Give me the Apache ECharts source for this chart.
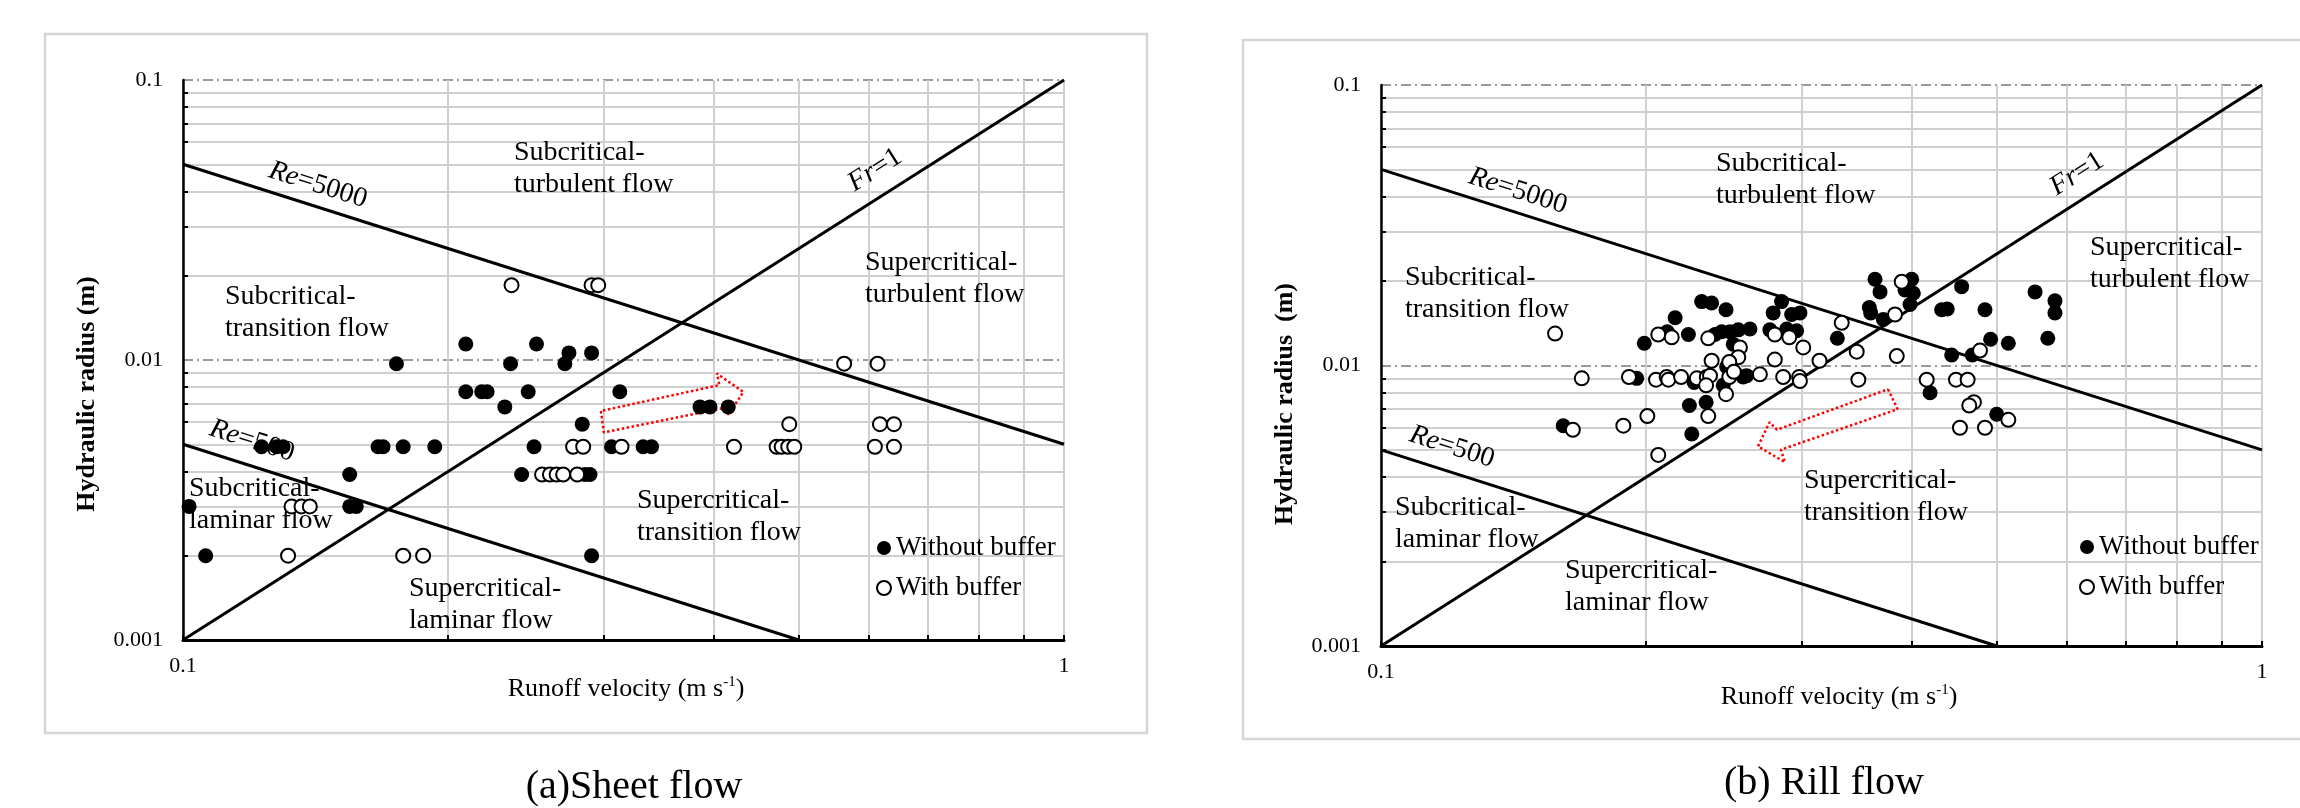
<!DOCTYPE html>
<html><head><meta charset="utf-8">
<script src="https://cdn.jsdelivr.net/npm/echarts@6/dist/echarts.min.js"></script>
<style>html,body{margin:0;padding:0;background:#fff}#c{width:2300px;height:808px}</style>
</head><body><div id="c"></div>
<script>
// ---------- tick labels / tick values ----------
const xTickValues = [0.1, 1];
const xTickLabels = ['0.1', '1'];
const yTickValues = [0.001, 0.01, 0.1];
const yTickLabels = ['0.001', '0.01', '0.1'];
const xMinorValues = [0.1, 0.2, 0.3, 0.4, 0.5, 0.6, 0.7, 0.8, 0.9, 1];
const yMinorValues = [0.002, 0.003, 0.004, 0.005, 0.006, 0.007, 0.008, 0.009,
                      0.02, 0.03, 0.04, 0.05, 0.06, 0.07, 0.08, 0.09];

// ---------- boundary lines ----------
const frLine = [[0.1, 0.001], [1, 0.1]];
const re5000Line = [[0.1, 0.05], [1, 0.005]];
const re500Line = [[0.1, 0.005], [0.5, 0.001]];

// ---------- (a) sheet flow ----------
const sheetWithout = [
  [0.1747,0.0097],[0.2094,0.0114],[0.2519,0.0114],[0.2742,0.0106],[0.2713,0.0097],[0.2909,0.0106],[0.2354,0.0097],
  [0.2094,0.0077],[0.2183,0.0077],[0.2214,0.0077],[0.2465,0.0077],[0.3132,0.0077],
  [0.2319,0.0068],[0.3862,0.0068],[0.3964,0.0068],[0.4158,0.0068],
  [0.2839,0.0059],
  [0.1228,0.0049],[0.1277,0.0049],[0.1299,0.0049],[0.1665,0.0049],[0.1687,0.0049],[0.1778,0.0049],[0.1931,0.0049],
  [0.2503,0.0049],[0.3065,0.0049],[0.3329,0.0049],[0.3403,0.0049],
  [0.1546,0.0039],[0.2423,0.0039],[0.2859,0.0039],[0.2897,0.0039],
  [0.1016,0.003],[0.1546,0.003],[0.1573,0.003],
  [0.1061,0.002],[0.2909,0.002]
];
const sheetWith = [
  [0.2360,0.0185],[0.2909,0.0185],[0.2960,0.0185],
  [0.5629,0.0097],[0.6143,0.0097],
  [0.4877,0.0059],[0.6181,0.0059],[0.6412,0.0059],
  [0.2772,0.0049],[0.2846,0.0049],[0.3146,0.0049],[0.4221,0.0049],[0.4719,0.0049],[0.4781,0.0049],
  [0.4864,0.0049],[0.4941,0.0049],[0.6100,0.0049],[0.6412,0.0049],
  [0.2556,0.0039],[0.2609,0.0039],[0.2655,0.0039],[0.2701,0.0039],[0.2802,0.0039],
  [0.1328,0.003],[0.1363,0.003],[0.1393,0.003],
  [0.1316,0.002],[0.1778,0.002],[0.1873,0.002]
];
const sheetArrow = [
  [0.2981,0.006575],[0.3004,0.005509],[0.4111,0.006739],[0.4160,0.006387],
  [0.4326,0.007688],[0.4036,0.008950],[0.4063,0.008142],[0.2981,0.006575]
];

// ---------- (b) rill flow ----------
const rillWithout = [
  [0.1990,0.0120],[0.2157,0.0148],[0.2113,0.0132],[0.2233,0.0129],[0.2312,0.0169],[0.2373,0.0167],[0.2464,0.0158],
  [0.2394,0.0129],[0.2436,0.0132],[0.2489,0.0132],[0.2544,0.0134],[0.2623,0.0135],
  [0.2511,0.0119],[0.2468,0.0099],
  [0.2849,0.0169],[0.2787,0.0154],[0.2925,0.0152],[0.2989,0.0154],
  [0.2763,0.0134],[0.2887,0.0135],[0.2963,0.0133],
  [0.1951,0.0090],[0.2267,0.0087],[0.2446,0.0085],[0.2577,0.0091],[0.2600,0.0092],
  [0.2239,0.0072],[0.2339,0.0074],[0.1610,0.0061],[0.2253,0.0057],
  [0.3637,0.0203],[0.3685,0.0183],[0.4003,0.0203],[0.3934,0.0186],[0.4020,0.0181],[0.3986,0.0165],
  [0.3583,0.0161],[0.3596,0.0154],[0.3717,0.0146],[0.3296,0.0125],
  [0.4561,0.0191],[0.4329,0.0158],[0.4393,0.0159],[0.4848,0.0158],[0.4920,0.0124],[0.5153,0.0120],
  [0.4444,0.0109],[0.4690,0.0109],[0.5526,0.0183],[0.5821,0.0170],[0.5821,0.0154],[0.5713,0.0125],
  [0.4200,0.0080],[0.4999,0.0067]
];
const rillWith = [
  [0.2064,0.0129],[0.2138,0.0126],[0.2352,0.0125],[0.2555,0.0116],[0.2544,0.0107],[0.2373,0.0104],[0.2485,0.0103],
  [0.2799,0.0129],[0.2907,0.0126],[0.3015,0.0116],[0.2799,0.0105],[0.3146,0.0104],
  [0.1690,0.0090],[0.1912,0.0091],[0.2052,0.0089],[0.2110,0.0091],[0.2119,0.0089],[0.2191,0.0091],
  [0.2283,0.0090],[0.2343,0.0091],[0.2363,0.0092],[0.2339,0.0085],[0.2485,0.0091],[0.2515,0.0095],
  [0.2464,0.0079],[0.2692,0.0093],[0.2861,0.0091],[0.2983,0.0091],[0.2989,0.0088],
  [0.2352,0.0066],[0.2006,0.0066],[0.1884,0.0061],[0.1651,0.0059],[0.2064,0.0048],[0.1576,0.0130],
  [0.3900,0.0199],[0.3832,0.0152],[0.3334,0.0142],[0.3467,0.0112],[0.3850,0.0108],[0.3482,0.0089],
  [0.4163,0.0089],[0.4494,0.0089],[0.4633,0.0089],[0.4785,0.0113],[0.4710,0.0074],[0.4653,0.0072],
  [0.4541,0.0060],[0.4848,0.0060],[0.5153,0.0064]
];
const rillArrow = [
  [0.3763,0.008229],[0.3858,0.006983],[0.2844,0.005010],[0.2874,0.004522],
  [0.2679,0.005147],[0.2761,0.006279],[0.2815,0.005902],[0.3763,0.008229]
];

// ---------- texts ----------
const seriesNames = ['Without buffer', 'With buffer'];
const captions = ['(a)Sheet flow', '(b) Rill flow'];
const yNames = ['Hydraulic radius (m)', 'Hydraulic radius  (m)'];
const regionTexts = ['Subcritical-\nturbulent flow', 'Subcritical-\ntransition flow', 'Supercritical-\nturbulent flow',
                     'Subcritical-\nlaminar flow', 'Supercritical-\ntransition flow', 'Supercritical-\nlaminar flow'];

const FONT = '"Liberation Serif","Times New Roman",serif';

function lookupLabel(values, labels) {
  return function (v) {
    for (let i = 0; i < values.length; i++) {
      if (Math.abs(Math.log10(v) - Math.log10(values[i])) < 1e-6) return labels[i];
    }
    return '';
  };
}

function makeX(gi) {
  return {
    type: 'log', logBase: 10, gridIndex: gi, min: 0.1, max: 1, position: 'bottom',
    axisLine: { show: true, lineStyle: { color: '#000', width: 3 } },
    axisTick: { show: true, inside: true, length: 5, customValues: xMinorValues, lineStyle: { color: '#000', width: 2 } },
    axisLabel: { customValues: xTickValues, formatter: lookupLabel(xTickValues, xTickLabels),
                 margin: 15, fontSize: 22, color: '#000', fontFamily: FONT },
    splitLine: { show: true, lineStyle: { color: '#cfcfcf', width: 2 } }
  };
}
function makeYMinor(gi) {
  return {
    type: 'log', logBase: 10, gridIndex: gi, min: 0.001, max: 0.1, position: 'left',
    axisLine: { show: true, lineStyle: { color: '#000', width: 2.5 } },
    axisTick: { show: true, inside: true, length: 5, customValues: yMinorValues, lineStyle: { color: '#000', width: 2 } },
    axisLabel: { customValues: yTickValues, formatter: lookupLabel(yTickValues, yTickLabels),
                 margin: 20, fontSize: 22, color: '#000', fontFamily: FONT },
    splitLine: { show: true, lineStyle: { color: '#cfcfcf', width: 2 } }
  };
}
function makeYMajor(gi) {
  return {
    type: 'log', logBase: 10, gridIndex: gi, min: 0.001, max: 0.1, position: 'right',
    axisLine: { show: false },
    axisTick: { show: false, customValues: yTickValues },
    axisLabel: { show: false },
    splitLine: { show: true, lineStyle: { color: '#7a7a7a', width: 1.5, type: [10, 4, 2, 4] } }
  };
}

function boundary(data, gi) {
  return { type: 'line', xAxisIndex: gi, yAxisIndex: gi * 2, data: data, symbol: 'none', silent: true,
           lineStyle: { color: '#000', width: 3 }, z: 3 };
}
function arrow(data, gi) {
  return { type: 'line', xAxisIndex: gi, yAxisIndex: gi * 2, data: data, symbol: 'none', silent: true,
           lineStyle: { color: '#ff0000', width: 2.5, type: [2.5, 2.5] }, z: 4 };
}
function filled(data, gi) {
  return { type: 'scatter', name: seriesNames[0], xAxisIndex: gi, yAxisIndex: gi * 2, data: data,
           symbol: 'circle', symbolSize: 15, itemStyle: { color: '#000', opacity: 1 }, z: 5 };
}
function hollow(data, gi) {
  return { type: 'scatter', name: seriesNames[1], xAxisIndex: gi, yAxisIndex: gi * 2, data: data,
           symbol: 'circle', symbolSize: 14, itemStyle: { color: '#fff', borderColor: '#000', borderWidth: 2, opacity: 1 }, z: 5 };
}

// ---------- graphics (layout) ----------
const graphics = [];
function rect(x, y, w, h) {
  graphics.push({ type: 'rect', z: -10, silent: true, shape: { x, y, width: w, height: h },
                  style: { fill: 'none', stroke: '#d6d6d6', lineWidth: 2.5 } });
}
function label(text, x, y, extra) {
  graphics.push(Object.assign({ type: 'text', x, y, silent: true, z: 1,
    style: Object.assign({ text, fontFamily: FONT, fontSize: 28, fill: '#000', lineHeight: 32,
                           align: 'left', verticalAlign: 'top' }, extra && extra.style) }, extra && extra.el));
}
function rotated(text, x, y, ang) {
  graphics.push({ type: 'text', x, y, rotation: ang * Math.PI / 180, silent: true, z: 1,
    style: { text, fontFamily: FONT, fontSize: 28, fill: '#000', align: 'center', verticalAlign: 'middle',
             rich: { i: { fontStyle: 'italic', fontFamily: FONT, fontSize: 28, fill: '#000' },
                     n: { fontFamily: FONT, fontSize: 28, fill: '#000' } } } });
}
rect(45, 34, 1102, 699);
rect(1243, 40, 1100, 699);

// region labels: [left, top of first line]
const regionPos = [
  [[514, 137], [225, 281], [865, 247], [189, 473], [637, 485], [409, 573]],
  [[1716, 148], [1405, 262], [2090, 232], [1395, 492], [1804, 465], [1565, 555]]
];
regionPos.forEach(pos => pos.forEach((p, i) => label(regionTexts[i], p[0], p[1])));

const rotPos = [
  { re5000: [318, 185], fr: [875, 170], re500: [252, 441] },
  { re5000: [1518, 191], fr: [2077, 174], re500: [1452, 447] }
];
rotPos.forEach(r => {
  rotated('{i|Re}{n|=5000}', r.re5000[0], r.re5000[1], -17.65);
  rotated('{i|Fr}{n|=1}', r.fr[0], r.fr[1], 32.45);
  rotated('{i|Re}{n|=500}', r.re500[0], r.re500[1], -17.65);
});

// axis names
[[87, 394], [1285, 404]].forEach((p, i) => {
  graphics.push({ type: 'text', x: p[0], y: p[1], rotation: Math.PI / 2, silent: true,
    style: { text: yNames[i], fontFamily: FONT, fontSize: 26, fontWeight: 'bold', fill: '#000',
             align: 'center', verticalAlign: 'middle' } });
});
[[626, 689], [1839, 697]].forEach(p => {
  graphics.push({ type: 'text', x: p[0], y: p[1], silent: true,
    style: { text: '{n|Runoff velocity (m s}{s|-1}{n|)}', align: 'center', verticalAlign: 'middle',
             rich: { n: { fontFamily: FONT, fontSize: 26, fill: '#000', lineHeight: 28 },
                     s: { fontFamily: FONT, fontSize: 15, fill: '#000', verticalAlign: 'top', lineHeight: 28 } } } });
});
// captions
[[634, 787], [1824, 783]].forEach((p, i) => {
  graphics.push({ type: 'text', x: p[0], y: p[1], silent: true,
    style: { text: captions[i], fontFamily: FONT, fontSize: 40, fill: '#000', align: 'center', verticalAlign: 'middle' } });
});

const legendBase = {
  data: seriesNames, orient: 'vertical', itemWidth: 14, itemHeight: 14, itemGap: 12, icon: 'circle',
  selectedMode: false, textStyle: { fontFamily: FONT, fontSize: 27, color: '#000', lineHeight: 28 }
};

const option = {
  animation: false,
  backgroundColor: '#fff',
  grid: [
    { left: 183, top: 80, width: 881, height: 560 },
    { left: 1381, top: 85, width: 881, height: 561 }
  ],
  xAxis: [makeX(0), makeX(1)],
  yAxis: [makeYMinor(0), makeYMajor(0), makeYMinor(1), makeYMajor(1)],
  legend: [
    Object.assign({}, legendBase, { left: 871, top: 529 }),
    Object.assign({}, legendBase, { left: 2074, top: 528 })
  ],
  graphic: graphics,
  series: [
    boundary(frLine, 0), boundary(re5000Line, 0), boundary(re500Line, 0), arrow(sheetArrow, 0),
    filled(sheetWithout, 0), hollow(sheetWith, 0),
    boundary(frLine, 1), boundary(re5000Line, 1), boundary(re500Line, 1), arrow(rillArrow, 1),
    filled(rillWithout, 1), hollow(rillWith, 1)
  ]
};

const chart = echarts.init(document.getElementById('c'), null, { renderer: 'canvas' });
chart.setOption(option);
</script>
</body></html>
